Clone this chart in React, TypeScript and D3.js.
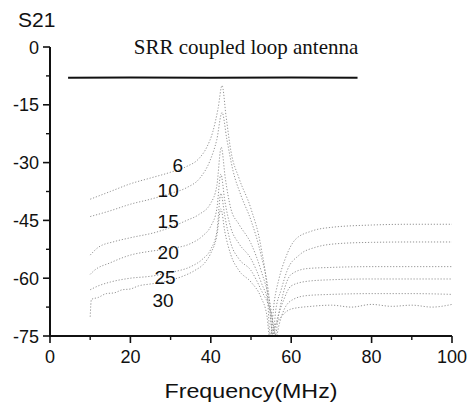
import React from "react";
import * as d3 from "d3";

type Pt = [number, number];

const xTicks = [0, 20, 40, 60, 80, 100];
const xMinor = [10, 30, 50, 70, 90];
const yTicks = [0, -15, -30, -45, -60, -75];
const yMinor = [-7.5, -22.5, -37.5, -52.5, -67.5];

const title = "SRR coupled loop antenna";
const yTitle = "S21";
const xTitle = "Frequency(MHz)";

// reference (direct) measurement
const refLine: Pt[] = [[4.5, -8], [20, -7.9], [40, -8], [60, -7.9], [76.5, -8]];

const s6: Pt[] = [[10,-39.5],[15,-37.5],[20,-35.5],[25,-34],[30,-32.5],[34,-31],[37,-29],[39,-26],[40.5,-22],[41.8,-16],[42.8,-10],[43.8,-18],[45,-27],[47,-34],[50,-42],[52.5,-52],[54,-63],[54.8,-75],[55.8,-66],[57,-60],[58.5,-55],[61,-50],[65,-47.8],[70,-46.8],[80,-46.2],[90,-46],[100,-46]];
const s10: Pt[] = [[10,-44],[15,-42.5],[20,-40.8],[25,-39.5],[30,-38],[34,-36.5],[37.3,-34],[39.8,-29.5],[41.5,-24],[42.8,-17],[44,-24],[45.5,-32],[47.5,-38.5],[50,-45],[52.5,-54],[54.5,-65],[55.4,-75],[56.2,-68],[57.5,-63],[59,-58],[62,-54],[66,-52],[72,-51],[80,-50.7],[90,-50.6],[100,-50.6]];
const s15: Pt[] = [[10,-54],[12,-52],[16,-50.5],[20,-49.5],[26.6,-48],[30,-46.8],[34,-45],[37,-43.5],[40,-40.5],[41.5,-36],[42.6,-26],[43.6,-34],[45,-42],[47,-46],[50,-51],[52.5,-58],[54.8,-67],[56,-75],[56.8,-70],[58,-64],[60,-59],[64,-57.5],[70,-57.2],[80,-57],[90,-57],[100,-57]];
const s20: Pt[] = [[10,-59],[11,-58],[15,-56],[20,-54],[25,-53],[30,-52.3],[35,-51],[38,-49],[40,-46.5],[41.5,-42],[42.5,-33],[43.5,-40],[45,-47],[47,-51],[50,-55],[52.5,-61],[54.6,-68],[55.5,-75],[56.4,-71],[58,-66],[60,-62],[64,-60.8],[70,-60.4],[80,-60.2],[90,-60.2],[100,-60.2]];
const s25: Pt[] = [[10,-63],[12,-62],[15,-61],[20,-60],[25,-59.5],[30,-58.5],[35,-57],[38,-55],[40,-52.5],[41.5,-48],[42.5,-38],[43.5,-44],[45,-51],[47,-55],[50,-58],[52.5,-63],[55,-69],[56.3,-75],[57,-72],[58.3,-68],[60.5,-65.5],[64,-64.5],[70,-64.2],[80,-64],[90,-64],[100,-64.2]];
const s30: Pt[] = [[10,-70],[10.3,-65.5],[12,-65],[14,-64],[16,-63.8],[18,-63],[20,-62.8],[22,-62],[25,-61.5],[28,-61],[30,-60.5],[33,-59.5],[36,-58],[38.5,-56],[40,-53.5],[41.5,-49],[42.5,-42],[43.5,-48],[45,-54],[47,-58],[50,-61],[52.5,-65],[54,-70],[54.6,-75],[55.6,-73],[57.5,-70],[60,-68],[65,-67.3],[70,-67],[75,-67.5],[80,-66.8],[85,-67.3],[90,-67],[95,-67.5],[100,-66.8]];

const seriesNames = ["6", "10", "15", "20", "25", "30"];
const seriesData = [s6, s10, s15, s20, s25, s30];
// label anchors in data units (MHz, dB)
const labelF = [31.8, 29.4, 29.4, 29.4, 28.6, 28.1];
const labelV = [-32.5, -38.9, -47, -55, -61.5, -67.5];

export default function App() {
  const x = d3.scaleLinear().domain([0, 100]).range([50, 452]);
  const y = d3.scaleLinear().domain([-75, 0]).range([336, 47]);
  const line = d3
    .line<Pt>()
    .x((d) => x(d[0]))
    .y((d) => y(d[1]))
    .curve(d3.curveMonotoneX);
  const straight = d3
    .line<Pt>()
    .x((d) => x(d[0]))
    .y((d) => y(d[1]));
  const sans = "'Liberation Sans', Arial, sans-serif";
  return (
    <svg
      width={470}
      height={405}
      style={{ position: "absolute", left: 0, top: 0, background: "#fff" }}
    >
      <rect x={0} y={0} width={470} height={405} fill="#fff" />
      {seriesData.map((s, i) => (
        <path
          key={i}
          d={line(s) || ""}
          fill="none"
          stroke="#888"
          strokeWidth={0.9}
          strokeDasharray="1.2 1.8"
        />
      ))}
      <path d={straight(refLine) || ""} fill="none" stroke="#111" strokeWidth={2} />
      {seriesNames.map((n, i) => (
        <text
          key={n}
          x={x(labelF[i])}
          y={y(labelV[i])}
          textAnchor="middle"
          fontFamily={sans}
          fontSize={19}
          fill="#111"
        >
          {n}
        </text>
      ))}
      {/* axes */}
      <line x1={x(0)} x2={x(0)} y1={y(0)} y2={y(-75)} stroke="#111" strokeWidth={2} />
      <line x1={x(0) - 1} x2={x(100)} y1={y(-75)} y2={y(-75)} stroke="#111" strokeWidth={2} />
      {yTicks.map((t) => (
        <g key={t}>
          <line x1={x(0) - 7} x2={x(0)} y1={y(t)} y2={y(t)} stroke="#111" strokeWidth={1.6} />
          <text
            x={x(0) - 11}
            y={y(t) + 6.5}
            textAnchor="end"
            fontFamily={sans}
            fontSize={18}
            fill="#111"
          >
            {t}
          </text>
        </g>
      ))}
      {yMinor.map((t) => (
        <line key={t} x1={x(0) - 4} x2={x(0)} y1={y(t)} y2={y(t)} stroke="#111" strokeWidth={1.4} />
      ))}
      {xTicks.map((t) => (
        <g key={t}>
          <line x1={x(t)} x2={x(t)} y1={y(-75)} y2={y(-75) + 7} stroke="#111" strokeWidth={1.6} />
          <text
            x={x(t)}
            y={363}
            textAnchor="middle"
            fontFamily={sans}
            fontSize={18}
            fill="#111"
          >
            {t}
          </text>
        </g>
      ))}
      {xMinor.map((t) => (
        <line key={t} x1={x(t)} x2={x(t)} y1={y(-75)} y2={y(-75) + 4} stroke="#111" strokeWidth={1.4} />
      ))}
      <text x={18} y={27} fontFamily={sans} fontSize={21} fill="#111">
        {yTitle}
      </text>
      <text
        x={251}
        y={398}
        textAnchor="middle"
        fontFamily={sans}
        fontSize={21}
        textLength={173}
        lengthAdjust="spacingAndGlyphs"
        fill="#111"
      >
        {xTitle}
      </text>
      <text
        x={246}
        y={54}
        textAnchor="middle"
        fontFamily="'Liberation Serif', 'Times New Roman', serif"
        fontSize={21}
        fill="#111"
      >
        {title}
      </text>
    </svg>
  );
}
